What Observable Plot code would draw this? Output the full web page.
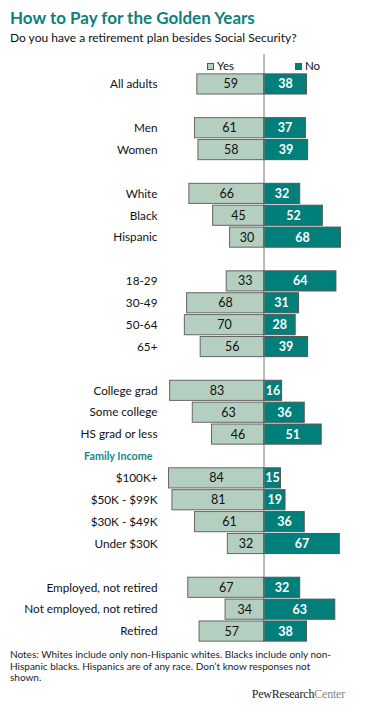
<!DOCTYPE html>
<html><head><meta charset="utf-8">
<script src="https://cdn.jsdelivr.net/npm/d3@7"></script>
<script src="https://cdn.jsdelivr.net/npm/@observablehq/plot@0.6"></script>
<style>
body{margin:0;background:#fff;font-family:Lato,sans-serif;color:#111;}
#wrap{position:relative;width:375px;height:714px;overflow:hidden;background:#fff;}
#wrap > div, #wrap > span{position:absolute;white-space:nowrap;}
#title{left:10px;top:7.5px;font-size:17px;line-height:20px;font-weight:bold;color:#107f7b;}
#sub{left:10px;top:31px;font-size:12px;line-height:14px;color:#111;}
#chart{left:0;top:54px;}
.box{width:5px;height:5px;border:1px solid #555;}
.lg{font-size:11.5px;line-height:13px;}
#notes{left:10px;top:649.4px;font-size:10px;line-height:11.5px;color:#222;}
#logo{right:30px;top:687px;font-family:"Liberation Serif",serif;font-size:12px;line-height:14px;letter-spacing:-0.2px;}
#logo b{color:#222;font-weight:normal;}
#logo i{font-style:normal;color:#888;}
</style></head>
<body>
<div id="wrap">
  <div id="title">How to Pay for the Golden Years</div>
  <div id="sub">Do you have a retirement plan besides Social Security?</div>
  <div id="chart"></div>
  <span class="box" style="left:207px;top:63px;background:#b4cfbf"></span>
  <span class="lg" style="left:217px;top:59px">Yes</span>
  <span class="box" style="left:295px;top:63px;background:#007f7b"></span>
  <span class="lg" style="left:305px;top:59px">No</span>
  <div id="notes">Notes: Whites include only non-Hispanic whites. Blacks include only non-<br>Hispanic blacks. Hispanics are of any race. Don’t know responses not<br>shown.</div>
  <div id="logo"><b>PewResearch</b><i>Center</i></div>
</div>
<script>
const labels = ["All adults", "", "Men", "Women", "", "White", "Black", "Hispanic", "",
  "18-29", "30-49", "50-64", "65+", "", "College grad", "Some college", "HS grad or less",
  "Family Income", "$100K+", "$50K - $99K", "$30K - $49K", "Under $30K", "",
  "Employed, not retired", "Not employed, not retired", "Retired"];
const yes = [59, null, 61, 58, null, 66, 45, 30, null, 33, 68, 70, 56, null, 83, 63, 46, null, 84, 81, 61, 32, null, 67, 34, 57];
const no  = [38, null, 37, 39, null, 32, 52, 68, null, 64, 31, 28, 39, null, 16, 36, 51, null, 15, 19, 36, 67, null, 32, 63, 38];
const sectionLabel = "Family Income";

const rows = labels.map((label, i) => ({i, label, yes: yes[i], no: no[i]}));
const bars = rows.filter(d => d.yes != null);

const plot = Plot.plot({
  width: 375, height: 588,
  marginTop: 19, marginBottom: 0, marginLeft: 164, marginRight: 21,
  x: {domain: [-88, 80], axis: null},
  y: {type: "band", domain: rows.map(d => d.i), paddingInner: 0.08, paddingOuter: 0.04, round: false, axis: null},
  style: {fontFamily: "Lato, sans-serif", fontSize: "11.75px", background: "transparent"},
  marks: [
    Plot.barX(bars, {x1: d => -d.yes, x2: 0, y: "i", fill: "#b4cfbf", stroke: "#666", strokeWidth: 1}),
    Plot.barX(bars, {x1: 0, x2: "no", y: "i", fill: "#007f7b", stroke: "#555", strokeWidth: 1}),
    Plot.ruleX([0], {stroke: "#777", insetTop: -19}),
    Plot.text(bars, {x: d => -d.yes / 2, y: "i", text: "yes", fill: "#111", fontSize: 12.5}),
    Plot.text(bars, {x: d => d.no / 2, y: "i", text: "no", fill: "#fff", fontWeight: "bold", fontSize: 12.5}),
    Plot.text(bars, {y: "i", text: "label", frameAnchor: "left", textAnchor: "end", dx: -7, fill: "#111"}),
    Plot.text(rows.filter(d => d.label === sectionLabel), {y: "i", text: "label", frameAnchor: "left", textAnchor: "end", dx: -12, fill: "#168a84", fontWeight: "bold", fontSize: 10.75})
  ]
});
document.getElementById("chart").appendChild(plot);
</script>
</body></html>
